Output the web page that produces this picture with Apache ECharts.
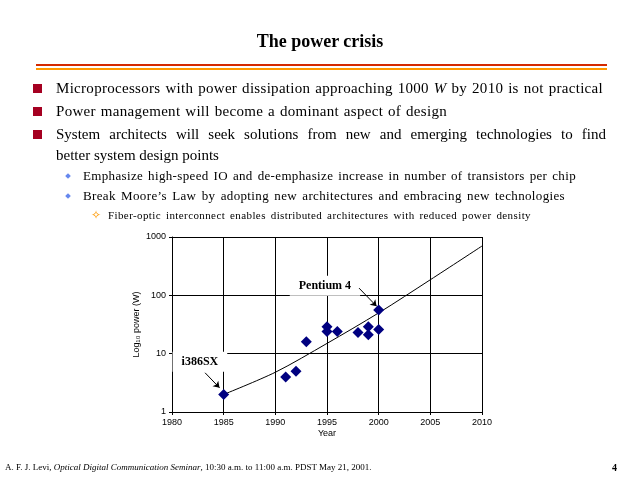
<!DOCTYPE html>
<html>
<head>
<meta charset="utf-8">
<script src="https://cdn.jsdelivr.net/npm/echarts@6/dist/echarts.min.js"></script>
<style>
  html, body { margin: 0; padding: 0; background: #fff; }
  #slide { position: relative; width: 640px; height: 480px; overflow: hidden; font-family: "Liberation Serif", "Times New Roman", serif; color: #000; }
  #chart { position: absolute; left: 0; top: 0; width: 640px; height: 480px; }
  .t { position: absolute; white-space: nowrap; line-height: 1; }
  .j { position: absolute; line-height: 1; text-align: justify; text-align-last: justify; }
  .rule { position: absolute; left: 36px; width: 571px; height: 2px; }
  .sq { position: absolute; left: 33px; width: 9px; height: 9px; background: #a50021; }
  .dia { position: absolute; left: 66px; width: 4px; height: 4px; background: #6688ee; transform: rotate(45deg); }
</style>
</head>
<body>
<div id="slide">
  <div id="chart"></div>
  <div class="t" style="left:0;width:640px;text-align:center;top:32px;font-size:18px;font-weight:bold;">The power crisis</div>
  <div class="rule" style="top:64px;background:#d42a00;"></div>
  <div class="rule" style="top:68px;background:#ff9900;"></div>

  <div class="sq" style="top:84px;"></div>
  <div class="j" style="left:56px;width:547px;top:81px;font-size:15px;letter-spacing:0.3px;">Microprocessors with power dissipation approaching 1000 <i>W</i> by 2010 is not practical</div>
  <div class="sq" style="top:107px;"></div>
  <div class="j" style="left:56px;width:391px;top:104px;font-size:15px;letter-spacing:0.3px;">Power management will become a dominant aspect of design</div>
  <div class="sq" style="top:130px;"></div>
  <div class="j" style="left:56px;width:550px;top:127px;font-size:15px;">System architects will seek solutions from new and emerging technologies to find</div>
  <div class="t" style="left:56px;top:148px;font-size:15px;">better system design points</div>

  <div class="dia" style="top:174px;"></div>
  <div class="j" style="left:83px;width:493px;top:169px;font-size:13px;letter-spacing:0.35px;">Emphasize high-speed IO and de-emphasize increase in number of transistors per chip</div>
  <div class="dia" style="top:194px;"></div>
  <div class="j" style="left:83px;width:482px;top:189px;font-size:13px;letter-spacing:0.35px;">Break Moore’s Law by adopting new architectures and embracing new technologies</div>
  <div class="t" style="left:91px;top:209px;font-size:12px;color:#ff9900;">✧</div>
  <div class="j" style="left:108px;width:423px;top:210px;font-size:11px;letter-spacing:0.4px;">Fiber-optic interconnect enables distributed architectures with reduced power density</div>

  <div class="t" style="left:5px;top:463px;font-size:9px;">A. F. J. Levi, <i>Optical Digital Communication Seminar</i>, 10:30 a.m. to 11:00 a.m. PDST May 21, 2001.</div>
  <div class="t" style="left:612px;top:463px;font-size:10px;font-weight:bold;">4</div>
</div>
<script>
// measured chips: year and power (W)
const chipYears = [1985, 1991, 1992, 1993, 1995, 1995, 1996, 1998, 1999, 1999, 2000, 2000];
const chipPower = [2, 4, 5, 16, 29, 24, 24, 23, 29, 21, 56, 26];

// trend curve
const trendYears = [1985, 1990, 1995, 2000, 2005, 2010];
const trendPower = [2, 4.8, 15, 50, 185, 700];

// annotations: label position and arrow [start, end]
const labelNames = ['i386SX', 'Pentium 4'];
const labelPos = [[1982.7, 7.3], [1994.8, 146]];
const arrowFrom = [[1983.2, 4.7], [1998.1, 133]];
const arrowTo = [[1984.6, 2.6], [1999.8, 65]];

const xTicks = [1980, 1985, 1990, 1995, 2000, 2005, 2010];

let chart = echarts.init(document.getElementById('chart'));
chart.setOption({
  animation: false,
  textStyle: { fontFamily: 'Liberation Sans, Arial, sans-serif' },
  grid: { left: 172, top: 237, width: 310, height: 175 },
  xAxis: {
    type: 'value',
    min: xTicks[0],
    max: xTicks[xTicks.length - 1],
    interval: 5,
    name: 'Year',
    nameLocation: 'middle',
    nameGap: 17,
    nameTextStyle: { fontSize: 9, color: '#000' },
    axisLine: { lineStyle: { color: '#000', width: 1 } },
    axisTick: { show: true, length: 3, lineStyle: { color: '#000' } },
    axisLabel: { fontSize: 9, color: '#000', margin: 6, formatter: v => String(v) },
    splitLine: { show: true, lineStyle: { color: '#000', width: 1 } }
  },
  yAxis: {
    type: 'log',
    logBase: 10,
    min: 1,
    max: 1000,
    name: 'Log\u2081\u2080 power (W)',
    nameLocation: 'middle',
    nameGap: 31,
    nameTextStyle: { fontSize: 9, color: '#000' },
    axisLine: { show: true, lineStyle: { color: '#000', width: 1 } },
    axisTick: { show: true, length: 3, lineStyle: { color: '#000' } },
    axisLabel: { fontSize: 9, color: '#000', margin: 6, formatter: v => String(Math.round(v)) },
    splitLine: { show: true, lineStyle: { color: '#000', width: 1 } },
    minorTick: { show: false }
  },
  series: [
    {
      type: 'line',
      data: trendYears.map((y, i) => [y, trendPower[i]]),
      smooth: 0.3,
      showSymbol: false,
      lineStyle: { color: '#000', width: 1 },
      z: 2
    },
    {
      type: 'scatter',
      data: chipYears.map((y, i) => [y, chipPower[i]]),
      symbol: 'diamond',
      symbolSize: 11,
      itemStyle: { color: '#000080', opacity: 1 },
      z: 3,
      markLine: {
        silent: true,
        symbol: ['none', 'arrow'],
        symbolSize: 6,
        label: { show: false },
        lineStyle: { color: '#000', width: 1, type: 'solid' },
        data: arrowFrom.map((p, i) => [{ coord: p }, { coord: arrowTo[i] }])
      }
    },
    {
      type: 'scatter',
      data: labelPos.map((p, i) => [p[0], p[1], labelNames[i]]),
      symbolSize: 0,
      z: 4,
      itemStyle: { opacity: 1 },
      label: {
        show: true,
        position: 'inside',
        formatter: p => p.data[2],
        fontFamily: 'Liberation Serif, Times New Roman, serif',
        fontWeight: 'bold',
        fontSize: 12,
        color: '#000',
        backgroundColor: '#fff',
        padding: [4, 9]
      }
    }
  ]
});
</script>
</body>
</html>
